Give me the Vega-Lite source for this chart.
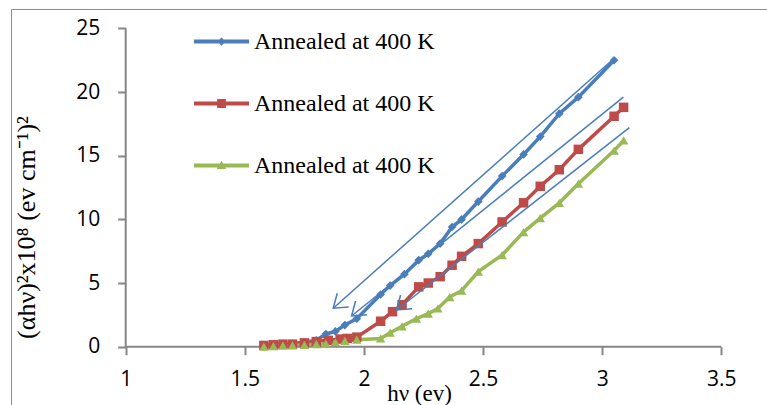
{
  "$schema": "https://vega.github.io/schema/vega-lite/v6.json",
  "width": 756,
  "height": 396,
  "padding": {"left": 11, "top": 9, "right": 0, "bottom": 0},
  "autosize": {"type": "none"},
  "background": "white",
  "config": {
    "view": {"stroke": "#8c8c8c", "strokeWidth": 1},
    "axis": {"grid": false}
  },
  "resolve": {"legend": {"color": "independent", "shape": "independent"}},
  "datasets": {
    "series": [
      {"series": "A", "x": 1.58, "y": 0.1}, {"series": "A", "x": 1.62, "y": 0.15}, {"series": "A", "x": 1.66, "y": 0.2},
      {"series": "A", "x": 1.70, "y": 0.25}, {"series": "A", "x": 1.75, "y": 0.35}, {"series": "A", "x": 1.80, "y": 0.5},
      {"series": "A", "x": 1.84, "y": 1.0}, {"series": "A", "x": 1.88, "y": 1.2}, {"series": "A", "x": 1.92, "y": 1.7},
      {"series": "A", "x": 1.97, "y": 2.2}, {"series": "A", "x": 2.07, "y": 4.1}, {"series": "A", "x": 2.11, "y": 4.8},
      {"series": "A", "x": 2.17, "y": 5.7}, {"series": "A", "x": 2.23, "y": 6.8}, {"series": "A", "x": 2.27, "y": 7.3},
      {"series": "A", "x": 2.32, "y": 8.1}, {"series": "A", "x": 2.37, "y": 9.4}, {"series": "A", "x": 2.41, "y": 10.0},
      {"series": "A", "x": 2.48, "y": 11.4}, {"series": "A", "x": 2.58, "y": 13.4}, {"series": "A", "x": 2.67, "y": 15.1},
      {"series": "A", "x": 2.74, "y": 16.5}, {"series": "A", "x": 2.82, "y": 18.3}, {"series": "A", "x": 2.90, "y": 19.6},
      {"series": "A", "x": 3.05, "y": 22.5},
      {"series": "B", "x": 1.58, "y": 0.1}, {"series": "B", "x": 1.62, "y": 0.15}, {"series": "B", "x": 1.66, "y": 0.2},
      {"series": "B", "x": 1.70, "y": 0.2}, {"series": "B", "x": 1.75, "y": 0.3}, {"series": "B", "x": 1.80, "y": 0.4},
      {"series": "B", "x": 1.85, "y": 0.5}, {"series": "B", "x": 1.90, "y": 0.6}, {"series": "B", "x": 1.93, "y": 0.65},
      {"series": "B", "x": 1.97, "y": 0.75}, {"series": "B", "x": 2.07, "y": 2.0}, {"series": "B", "x": 2.12, "y": 2.75},
      {"series": "B", "x": 2.16, "y": 3.3}, {"series": "B", "x": 2.23, "y": 4.7}, {"series": "B", "x": 2.27, "y": 5.0},
      {"series": "B", "x": 2.32, "y": 5.5}, {"series": "B", "x": 2.37, "y": 6.4}, {"series": "B", "x": 2.41, "y": 7.1},
      {"series": "B", "x": 2.48, "y": 8.1}, {"series": "B", "x": 2.58, "y": 9.8}, {"series": "B", "x": 2.67, "y": 11.3},
      {"series": "B", "x": 2.74, "y": 12.6}, {"series": "B", "x": 2.82, "y": 13.9}, {"series": "B", "x": 2.90, "y": 15.5},
      {"series": "B", "x": 3.05, "y": 18.1}, {"series": "B", "x": 3.09, "y": 18.8},
      {"series": "C", "x": 1.58, "y": 0.0}, {"series": "C", "x": 1.62, "y": 0.05}, {"series": "C", "x": 1.66, "y": 0.08},
      {"series": "C", "x": 1.70, "y": 0.1}, {"series": "C", "x": 1.75, "y": 0.15}, {"series": "C", "x": 1.80, "y": 0.2},
      {"series": "C", "x": 1.84, "y": 0.25}, {"series": "C", "x": 1.88, "y": 0.35}, {"series": "C", "x": 1.92, "y": 0.45},
      {"series": "C", "x": 1.97, "y": 0.55}, {"series": "C", "x": 2.07, "y": 0.65}, {"series": "C", "x": 2.11, "y": 1.1},
      {"series": "C", "x": 2.16, "y": 1.6}, {"series": "C", "x": 2.22, "y": 2.2}, {"series": "C", "x": 2.27, "y": 2.6},
      {"series": "C", "x": 2.31, "y": 3.0}, {"series": "C", "x": 2.36, "y": 3.9}, {"series": "C", "x": 2.41, "y": 4.4},
      {"series": "C", "x": 2.48, "y": 5.9}, {"series": "C", "x": 2.58, "y": 7.2}, {"series": "C", "x": 2.67, "y": 9.0},
      {"series": "C", "x": 2.74, "y": 10.1}, {"series": "C", "x": 2.82, "y": 11.3}, {"series": "C", "x": 2.90, "y": 12.8},
      {"series": "C", "x": 3.05, "y": 15.4}, {"series": "C", "x": 3.09, "y": 16.2}
    ],
    "fits": [
      {"fit": "A", "end": "tip", "x": 1.871, "y": 3.02}, {"fit": "A", "end": "top", "x": 3.047, "y": 22.6},
      {"fit": "B", "end": "tip", "x": 1.948, "y": 2.41}, {"fit": "B", "end": "top", "x": 3.089, "y": 19.6},
      {"fit": "C", "end": "tip", "x": 2.137, "y": 2.88}, {"fit": "C", "end": "top", "x": 3.114, "y": 17.2}
    ]
  },
  "layer": [
    {
      "data": {"name": "series"},
      "mark": {"type": "line", "strokeWidth": 3.5},
      "encoding": {
        "x": {
          "field": "x", "type": "quantitative",
          "scale": {"domain": [0.51855, 3.69182], "nice": false, "zero": false},
          "axis": {
            "orient": "bottom", "offset": -58.3, "values": [1, 1.5, 2, 2.5, 3, 3.5], "format": "~g",
            "domain": false, "ticks": true, "tickSize": 8, "tickColor": "#868686", "tickWidth": 2,
            "labelFont": "Open Sans", "labelFontSize": 21, "labelColor": "black", "labelPadding": 14,
            "labelFlush": false, "labelOverlap": false,
            "title": "hν (ev)", "titleFont": "Liberation Serif", "titleFontSize": 23, "titleFontWeight": "normal",
            "titleColor": "black", "titleX": 408, "titleY": 53.3, "titleBaseline": "alphabetic", "titleAlign": "center"
          }
        },
        "y": {
          "field": "y", "type": "quantitative",
          "scale": {"domain": [-4.579, 26.5237], "nice": false, "zero": false},
          "axis": {
            "orient": "left", "offset": -114.7, "values": [0, 5, 10, 15, 20, 25],
            "domain": false, "ticks": true, "tickSize": 8, "tickColor": "#868686", "tickWidth": 2,
            "labelFont": "Open Sans", "labelFontSize": 21, "labelColor": "black", "labelPadding": 18,
            "labelFlush": false, "labelOverlap": false,
            "title": "(αhν)²x10⁸ (ev cm⁻¹)²", "titleFont": "Liberation Serif", "titleFontSize": 26, "titleFontWeight": "normal",
            "titleColor": "black", "titleX": -91, "titleY": 218, "titleBaseline": "alphabetic", "titleAlign": "center"
          }
        },
        "detail": {"field": "series", "type": "nominal"},
        "stroke": {"field": "series", "type": "nominal", "scale": {"domain": ["A", "B", "C"], "range": ["#4A7EBB", "#BE4B48", "#98B954"]}, "legend": null}
      }
    },
    {
      "data": {"values": [{"k": 0}]},
      "mark": {"type": "rule", "color": "#868686", "strokeWidth": 2},
      "encoding": {"x": {"datum": 1, "type": "quantitative"}, "x2": {"datum": 3.5}, "y": {"datum": 0, "type": "quantitative"}}
    },
    {
      "data": {"values": [{"k": 0}]},
      "mark": {"type": "rule", "color": "#868686", "strokeWidth": 2},
      "encoding": {"x": {"datum": 1, "type": "quantitative"}, "y": {"datum": 0, "type": "quantitative"}, "y2": {"datum": 25}}
    },
    {
      "data": {"name": "series"},
      "mark": {"type": "point", "filled": true, "size": 20, "opacity": 1},
      "encoding": {
        "x": {"field": "x", "type": "quantitative"},
        "y": {"field": "y", "type": "quantitative"},
        "color": {
          "field": "series", "type": "nominal",
          "scale": {"domain": ["A", "B", "C"], "range": ["#4A7EBB", "#BE4B48", "#98B954"]},
          "legend": {
            "orient": "none", "legendX": 182, "legendY": 4, "title": null,
            "labelExpr": "'Annealed at 400 K'", "labelFont": "Liberation Serif", "labelFontSize": 24, "labelColor": "black",
            "labelLimit": 400, "labelOffset": 4, "rowPadding": 21
          }
        },
        "shape": {
          "field": "series", "type": "nominal",
          "scale": {"domain": ["A", "B", "C"], "range": [
            "M-1,-0.075H1V0.075H-1Z M0,-0.15L0.15,0L0,0.15L-0.15,0Z",
            "M-1,-0.075H1V0.075H-1Z M-0.16,-0.16H0.16V0.16H-0.16Z",
            "M-1,-0.075H1V0.075H-1Z M0,-0.17L0.17,0.13H-0.17Z"
          ]},
          "legend": {
            "orient": "none", "legendX": 450, "legendY": 230, "title": "shp",
            "symbolSize": 3025
          }
        }
      }
    },
    {
      "data": {"name": "series"},
      "transform": [{"filter": "datum.series == 'A'"}],
      "mark": {"type": "point", "shape": "diamond", "filled": true, "opacity": 1, "size": 75, "color": "#4A7EBB"},
      "encoding": {"x": {"field": "x", "type": "quantitative"}, "y": {"field": "y", "type": "quantitative"}}
    },
    {
      "data": {"name": "series"},
      "transform": [{"filter": "datum.series == 'B'"}],
      "mark": {"type": "point", "shape": "square", "filled": true, "opacity": 1, "size": 90, "color": "#BE4B48"},
      "encoding": {"x": {"field": "x", "type": "quantitative"}, "y": {"field": "y", "type": "quantitative"}}
    },
    {
      "data": {"name": "series"},
      "transform": [{"filter": "datum.series == 'C'"}],
      "mark": {"type": "point", "shape": "triangle-up", "filled": true, "opacity": 1, "size": 90, "color": "#98B954"},
      "encoding": {"x": {"field": "x", "type": "quantitative"}, "y": {"field": "y", "type": "quantitative"}}
    },
    {
      "data": {"name": "fits"},
      "mark": {"type": "line", "strokeWidth": 1.5, "color": "#4A7EBB"},
      "encoding": {"x": {"field": "x", "type": "quantitative"}, "y": {"field": "y", "type": "quantitative"}, "detail": {"field": "fit", "type": "nominal"}}
    },
    {
      "data": {"name": "fits"},
      "transform": [{"filter": "datum.end == 'tip'"}],
      "mark": {"type": "point", "shape": "M-1,-0.7L0,0L-1,0.7", "angle": 140, "filled": false, "opacity": 1, "size": 650, "stroke": "#4A7EBB", "strokeWidth": 1.5},
      "encoding": {"x": {"field": "x", "type": "quantitative"}, "y": {"field": "y", "type": "quantitative"}}
    }
  ]
}
